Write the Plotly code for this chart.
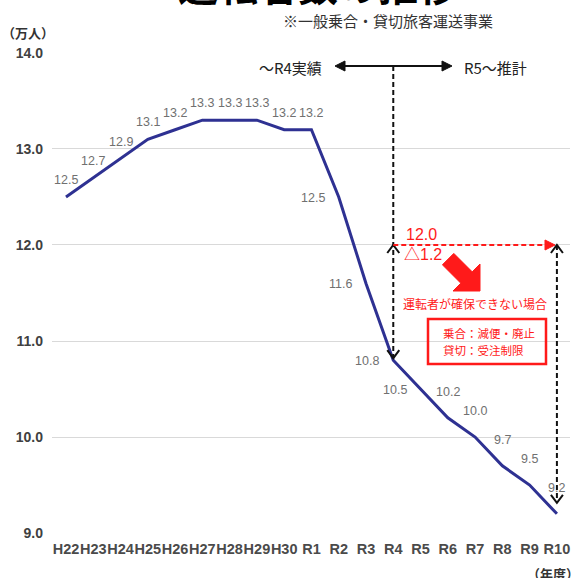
import plotly.graph_objects as go

# ---- data -------------------------------------------------------------
years = ["H22", "H23", "H24", "H25", "H26", "H27", "H28", "H29", "H30",
         "R1", "R2", "R3", "R4", "R5", "R6", "R7", "R8", "R9", "R10"]
drivers = [12.5, 12.7, 12.9, 13.1, 13.2, 13.3, 13.3, 13.3, 13.2, 13.2,
           12.5, 11.6, 10.8, 10.5, 10.2, 10.0, 9.7, 9.5, 9.2]
y_ticks = [9.0, 10.0, 11.0, 12.0, 13.0, 14.0]
last_actual = "R4"          # last year of actual figures
required_level = 12.0       # drivers needed to keep current service

# where each value label sits relative to its point
label_side = ["above"] * 10 + ["left"] * 4 + ["high"] * 5

# ---- geometry ---------------------------------------------------------
W, H = 575, 578
PLOT_L, PLOT_T, PLOT_W, PLOT_H = 52, 52, 518, 482
X_RANGE = [-0.513, 18.48]
Y_RANGE = [8.99, 14.01]
UX = PLOT_W / (X_RANGE[1] - X_RANGE[0])   # px per category step
UY = PLOT_H / (Y_RANGE[1] - Y_RANGE[0])   # px per 1.0 on the y axis


def px_to_x(px):
    return X_RANGE[0] + (px - PLOT_L) / UX


def px_to_y(py):
    return Y_RANGE[1] - (py - PLOT_T) / UY


def paper_x(px):
    return (px - PLOT_L) / PLOT_W


def paper_y(py):
    return (PLOT_T + PLOT_H - py) / PLOT_H


FONT = "Liberation Sans, Noto Sans CJK JP, sans-serif"
JP = "Noto Sans CJK JP, sans-serif"
NAVY = "#2E3192"
RED = "#FF1A1A"

idx = list(range(len(years)))
r4 = years.index(last_actual)
r4_val = drivers[r4]

fig = go.Figure()
fig.add_trace(go.Scatter(
    x=idx, y=drivers, mode="lines",
    line=dict(color=NAVY, width=3),
    hoverinfo="skip", showlegend=False,
))

annotations = []

# value labels
shift = {"above": (0, 17), "left": (-26, -1), "high": (0, 26)}
for i, (v, side) in enumerate(zip(drivers, label_side)):
    dx, dy = shift[side]
    annotations.append(dict(
        x=i, y=v, xref="x", yref="y", text=f"{v:.1f}", showarrow=False,
        xshift=dx, yshift=dy,
        font=dict(family=FONT, size=12.5, color="#707070"),
    ))


def note(text, px, py, size, color="#222222", xanchor="center",
         family=JP, weight="normal"):
    annotations.append(dict(
        x=paper_x(px), y=paper_y(py), xref="paper", yref="paper",
        text=text, showarrow=False, xanchor=xanchor, yanchor="middle",
        font=dict(family=family, size=size, color=color, weight=weight),
    ))


note("運転者数の推移", 318, -16, 40, "#000000", weight="bold")
note("※一般乗合・貸切旅客運送事業", 388, 20, 15, "#333333")
note("（万人）", 28, 33, 13, "#333333", weight="bold")
note("（年度）", 553, 573, 13, "#333333", weight="bold")

# actual / forecast divider
arrow_y = px_to_y(66)
note("～R4実績", 324, 67, 15, "#222222", xanchor="right")
note("R5～推計", 462, 67, 15, "#222222", xanchor="left")

# shortage annotation texts
annotations.append(dict(
    x=r4 + 1.05, y=required_level, xref="x", yref="y",
    text=f"{required_level:.1f}", showarrow=False, yshift=10,
    font=dict(family=FONT, size=16, color=RED),
))
annotations.append(dict(
    x=r4 + 1.1, y=required_level, xref="x", yref="y",
    text=f"△{required_level - r4_val:.1f}", showarrow=False, yshift=-10,
    font=dict(family=FONT, size=16, color=RED),
))
note("運転者が確保できない場合", 475, 303, 12, RED)
note("乗合：減便・廃止", 441, 333, 11.5, RED, xanchor="left")
note("貸切：受注制限", 441, 350, 11.5, RED, xanchor="left")

shapes = []
DASH = "5px,3px"


def chevron(x, y, up):
    dx, dy = 6 / UX, 8 / UY
    s = -1 if up else 1
    return dict(type="path", xref="x", yref="y",
                path=f"M {x - dx},{y + s * dy} L {x},{y} L {x + dx},{y + s * dy}",
                line=dict(color="#111111", width=2))


def head(x, y, right, color):
    ln, hw = 10 / UX, 5 / UY
    b = x - ln if right else x + ln
    return dict(type="path", xref="x", yref="y",
                path=f"M {x},{y} L {b},{y + hw} L {b},{y - hw} Z",
                fillcolor=color, line=dict(color=color, width=1))


# horizontal divider arrow
left_end, right_end = px_to_x(335), px_to_x(452)
shapes.append(dict(type="line", xref="x", yref="y", x0=left_end + 8 / UX,
                   x1=right_end - 8 / UX, y0=arrow_y, y1=arrow_y,
                   line=dict(color="#111111", width=2)))
shapes.append(head(left_end, arrow_y, False, "#111111"))
shapes.append(head(right_end, arrow_y, True, "#111111"))

# vertical dashed marker at the last actual year
shapes.append(dict(type="line", xref="x", yref="y", x0=r4, x1=r4,
                   y0=arrow_y, y1=r4_val + 2 / UY,
                   line=dict(color="#111111", width=2, dash=DASH)))
shapes.append(chevron(r4, required_level, up=True))
shapes.append(chevron(r4, r4_val + 2 / UY, up=False))

# vertical dashed marker at the final forecast year
last = len(years) - 1
bottom_tip = drivers[-1] + 11 / UY
shapes.append(dict(type="line", xref="x", yref="y", x0=last, x1=last,
                   y0=required_level, y1=bottom_tip,
                   line=dict(color="#111111", width=2, dash=DASH)))
shapes.append(chevron(last, required_level, up=True))
shapes.append(chevron(last, bottom_tip, up=False))

# red dashed level line
red_tip = px_to_x(555)
shapes.append(dict(type="line", xref="x", yref="y", x0=r4, x1=red_tip - 8 / UX,
                   y0=required_level, y1=required_level,
                   line=dict(color=RED, width=2, dash=DASH)))
shapes.append(head(red_tip, required_level, True, RED))

# fat red arrow pointing down-right
fat = [(453.8, 253.4), (472.2, 271.8), (480, 264), (480, 291),
       (453, 291), (460.8, 283.2), (442.4, 264.8)]
path = "M " + " L ".join(f"{px_to_x(a)},{px_to_y(b)}" for a, b in fat) + " Z"
shapes.append(dict(type="path", xref="x", yref="y", path=path,
                   fillcolor=RED, line=dict(color=RED, width=1)))

# red box around the consequences
shapes.append(dict(type="rect", xref="x", yref="y",
                   x0=px_to_x(428), x1=px_to_x(546),
                   y0=px_to_y(319), y1=px_to_y(364),
                   fillcolor="rgba(255,255,255,0)",
                   line=dict(color=RED, width=2.5)))

fig.update_layout(
    width=W, height=H,
    margin=dict(l=PLOT_L, r=W - PLOT_L - PLOT_W, t=PLOT_T,
                b=H - PLOT_T - PLOT_H, pad=0),
    paper_bgcolor="white", plot_bgcolor="white",
    font=dict(family=FONT),
    annotations=annotations, shapes=shapes,
    xaxis=dict(range=X_RANGE, tickvals=idx, ticktext=years, tickangle=0,
               showgrid=False, zeroline=False, showline=False, ticks="",
               ticklabelstandoff=4,
               tickfont=dict(family=FONT, size=14.5, color="#4A4A4A",
                             weight="bold")),
    yaxis=dict(range=Y_RANGE, tickvals=y_ticks, tickformat=".1f",
               showgrid=True, gridcolor="#D9D9D9", gridwidth=1.2,
               zeroline=False, showline=False, ticks="",
               ticklabelstandoff=8,
               tickfont=dict(family=FONT, size=14, color="#404040",
                             weight="bold")),
    showlegend=False,
)

fig.write_html("out.html")
